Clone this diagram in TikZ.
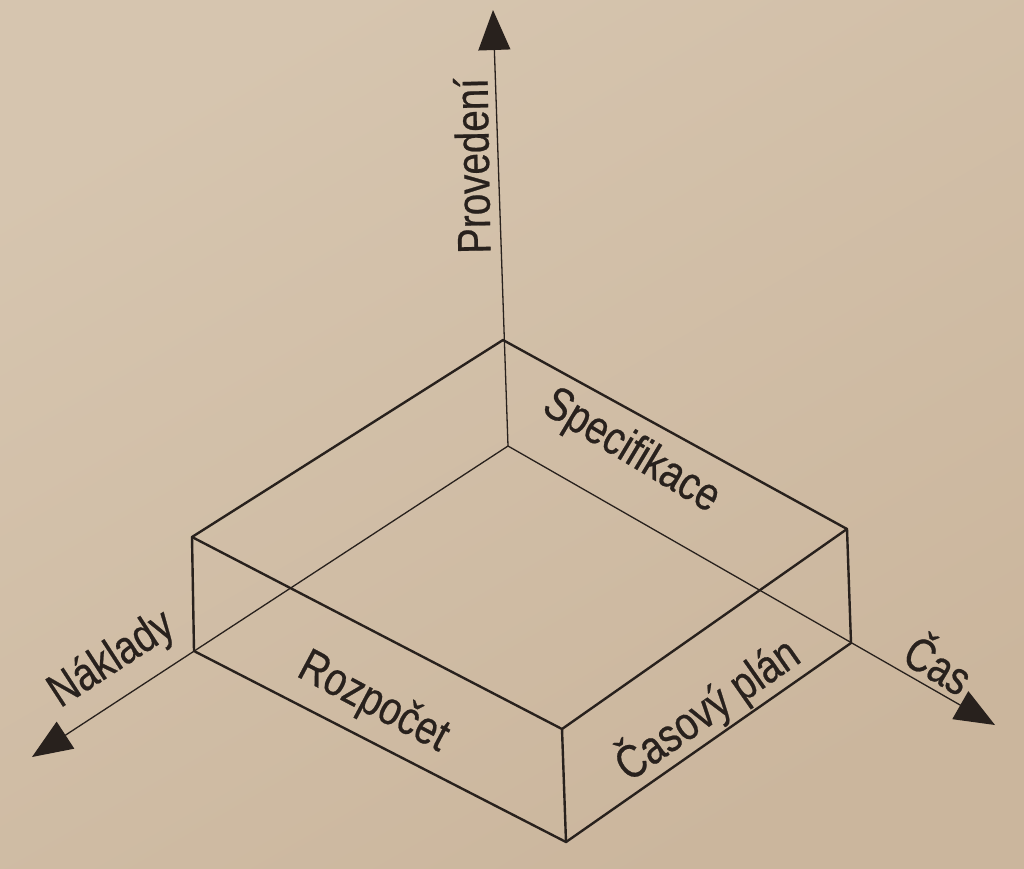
\documentclass[tikz,border=0pt]{standalone}
\usepackage{fontspec}
\setmainfont{Liberation Sans}[FakeStretch=0.82,FakeBold=0.5]
\usetikzlibrary{arrows.meta}
\definecolor{paper}{RGB}{203,182,157}
\definecolor{paperlight}{RGB}{214,197,175}
\definecolor{ink}{RGB}{40,33,29}
\tikzset{
  axisline/.style={draw=ink, line width=1.3pt, -{Triangle[length=40pt,width=32pt]}},
  edge/.style={draw=ink, line width=2.4pt, line join=round, line cap=round},
  lbl/.style={text=ink, font=\fontsize{47}{50}\selectfont, inner sep=0pt}
}
\begin{document}
\begin{tikzpicture}[x=1pt,y=-1pt]
\useasboundingbox (0,0) rectangle (1024,868);
\shade[top color=paperlight, bottom color=paper, shading angle=30] (0,0) rectangle (1024,868);
% corners
\coordinate (O) at (508,446);
\coordinate (T) at (503,340);
\coordinate (L) at (192,537);
\coordinate (F) at (562,729);
\coordinate (R) at (847,529);
\coordinate (LB) at (194,651);
\coordinate (FB) at (566,842);
\coordinate (RB) at (851,643);
\coordinate (Ptip) at (493,10);
\coordinate (Ntip) at (32,757);
\coordinate (Ctip) at (995,725);
% axes
\draw[axisline] (O) -- (Ptip);
\draw[axisline] (O) -- (Ntip);
\draw[axisline] (O) -- (Ctip);
% box
\draw[edge] (T) -- (L) -- (F) -- (R) -- cycle;
\draw[edge] (L) -- (LB) -- (FB) -- (RB) -- (R);
\draw[edge] (F) -- (FB);
% labels
\node[lbl, rotate=91] (prov) at (472,166) {Provedení};
\node[lbl, rotate=-31] (spec) at (631,452) {Specifikace};
\node[lbl, rotate=-28] (rozp) at (373,703) {Rozpočet};
\node[lbl, rotate=35] (casp) at (707,709) {Časový plán};
\node[lbl, rotate=33] (nakl) at (112,660) {Náklady};
\node[lbl, rotate=-31] (cas) at (940,662) {Čas};
\end{tikzpicture}
\end{document}
